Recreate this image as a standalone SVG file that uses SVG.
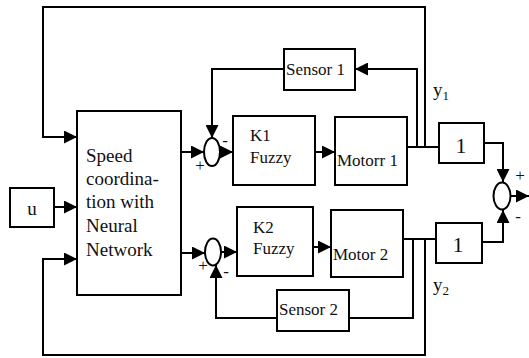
<svg xmlns="http://www.w3.org/2000/svg" width="529" height="358" viewBox="0 0 529 358">
<style>
.box{fill:#fff;stroke:#000;stroke-width:2}
.sum{fill:#fff;stroke:#000;stroke-width:2}
.ln{fill:none;stroke:#000;stroke-width:2}
.t{font-family:'Liberation Serif','DejaVu Serif',serif;fill:#111}
.lbl{font-size:17px}
.nn{font-size:19px}
.g{font-size:22px}
.sg{font-size:17px}
</style>
<defs>
<marker id="ah" markerUnits="userSpaceOnUse" markerWidth="13" markerHeight="13" refX="13" refY="6.5" orient="auto">
<path d="M0,0 L13,6.5 L0,13 z" fill="#000"/>
</marker>
</defs>
<g id="connectors">
<path class="ln" d="M425,147 V7 H43 V137 H77" marker-end="url(#ah)"/>
<path class="ln" d="M417,147 V69 H355" marker-end="url(#ah)"/>
<path class="ln" d="M284,69 H212 V138" marker-end="url(#ah)"/>
<path class="ln" d="M181,152 H204" marker-end="url(#ah)"/>
<path class="ln" d="M220,152 H233" marker-end="url(#ah)"/>
<path class="ln" d="M315,152 H335" marker-end="url(#ah)"/>
<path class="ln" d="M407,147 H439"/>
<path class="ln" d="M484,143 H503 V182" marker-end="url(#ah)"/>
<path class="ln" d="M482,242 H503 V210" marker-end="url(#ah)"/>
<path class="ln" d="M511,196 H529" marker-end="url(#ah)"/>
<path class="ln" d="M54,207 H77" marker-end="url(#ah)"/>
<path class="ln" d="M425,239 V355 H43 V259 H77" marker-end="url(#ah)"/>
<path class="ln" d="M403,239 H436"/>
<path class="ln" d="M413,239 V318 H349"/>
<path class="ln" d="M277,318 H216 V265" marker-end="url(#ah)"/>
<path class="ln" d="M181,253 H205" marker-end="url(#ah)"/>
<path class="ln" d="M221,252 H237" marker-end="url(#ah)"/>
<path class="ln" d="M313,247 H331" marker-end="url(#ah)"/>
</g>
<g font-family="Liberation Serif, serif">
<g id="u"><rect class="box" x="10" y="188" width="44" height="39"/><text class="t nn" x="32" y="215" text-anchor="middle">u</text></g>
<g id="nn"><rect class="box" x="77" y="111" width="104" height="184"/>
<text class="t nn" x="86" y="162">Speed</text>
<text class="t nn" x="86" y="185">coordina-</text>
<text class="t nn" x="86" y="208">tion with</text>
<text class="t nn" x="86" y="232">Neural</text>
<text class="t nn" x="86" y="256">Network</text></g>
<g id="sum1"><ellipse class="sum" cx="212" cy="152" rx="8" ry="14"/>
<text class="t sg" x="225" y="146" text-anchor="middle">-</text>
<text class="t sg" x="200" y="171" text-anchor="middle" fill="#555">+</text></g>
<g id="sum2"><ellipse class="sum" cx="213" cy="252" rx="8" ry="13.5"/>
<text class="t sg" x="226" y="277" text-anchor="middle">-</text>
<text class="t sg" x="203" y="271" text-anchor="middle" fill="#555">+</text></g>
<g id="sum3"><ellipse class="sum" cx="502" cy="196" rx="8.5" ry="13.5"/>
<text class="t sg" x="520" y="181" text-anchor="middle" fill="#3a6ea5">+</text>
<text class="t sg" x="518" y="222" text-anchor="middle">-</text></g>
<g id="k1"><rect class="box" x="233" y="116" width="82" height="69"/>
<text class="t lbl" x="250" y="141">K1</text><text class="t lbl" x="250" y="163">Fuzzy</text></g>
<g id="k2"><rect class="box" x="237" y="207" width="76" height="69"/>
<text class="t lbl" x="253" y="233">K2</text><text class="t lbl" x="253" y="254">Fuzzy</text></g>
<g id="motor1"><rect class="box" x="335" y="117" width="72" height="68"/>
<text class="t lbl" x="337" y="166">Motorr 1</text></g>
<g id="motor2"><rect class="box" x="331" y="210" width="72" height="67"/>
<text class="t lbl" x="333" y="260">Motor 2</text></g>
<g id="sensor1"><rect class="box" x="284" y="49" width="71" height="41"/>
<text class="t lbl" x="286" y="75">Sensor 1</text></g>
<g id="sensor2"><rect class="box" x="277" y="290" width="72" height="41"/>
<text class="t lbl" x="279" y="315">Sensor 2</text></g>
<g id="gain1"><rect class="box" x="439" y="123" width="45" height="40"/>
<text class="t g" x="461" y="153" text-anchor="middle">1</text></g>
<g id="gain2"><rect class="box" x="436" y="223" width="46" height="40"/>
<text class="t g" x="458" y="252" text-anchor="middle">1</text></g>
<g id="labels">
<text class="t nn" x="433" y="96">y<tspan font-size="13" dy="4">1</tspan></text>
<text class="t nn" x="433" y="291">y<tspan font-size="13" dy="4">2</tspan></text>
</g>
</g>
</svg>
